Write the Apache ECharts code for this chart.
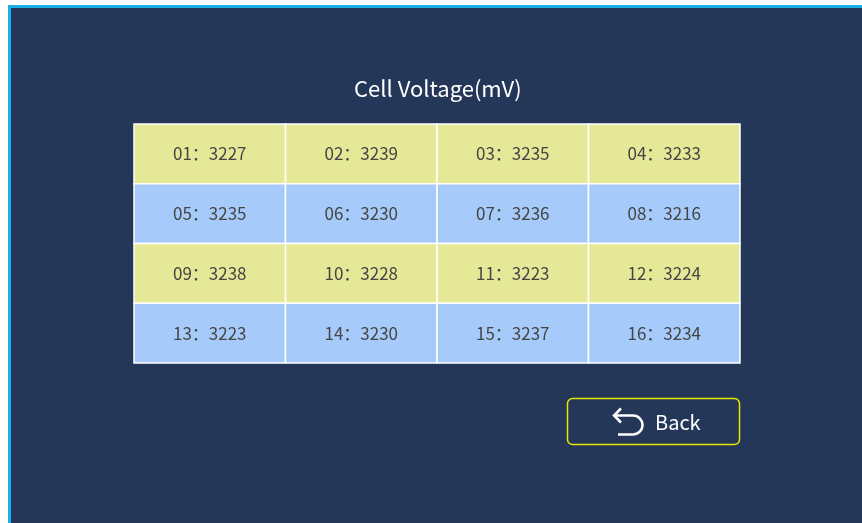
<!DOCTYPE html>
<html>
<head>
<meta charset="utf-8">
<script src="https://cdn.jsdelivr.net/npm/echarts@6/dist/echarts.min.js"></script>
<style>
html,body{margin:0;padding:0;background:#ffffff;}
#main{width:862px;height:523px;}
</style>
</head>
<body>
<div id="main"></div>
<script>
var columns = ['c1', 'c2', 'c3', 'c4'];
var rows = ['r1', 'r2', 'r3', 'r4'];
var cellNames = ['01','02','03','04','05','06','07','08','09','10','11','12','13','14','15','16'];
var voltages = [3227,3239,3235,3233,3235,3230,3236,3216,3238,3228,3223,3224,3223,3230,3237,3234];
var titleText = 'Cell Voltage(mV)';
var buttonText = 'Back';

var rowColors = ['#e4e897', '#a6cbfa'];
var fontFam = '"Noto Sans CJK SC", sans-serif';
var data = cellNames.map(function (n, i) {
  return [i % 4, Math.floor(i / 4), voltages[i], n];
});

var chart = echarts.init(document.getElementById('main'), null, {renderer: 'canvas'});
chart.setOption({
  backgroundColor: '#ffffff',
  animation: false,
  title: {
    text: titleText,
    left: 349,
    top: 73,
    textStyle: {color: '#ffffff', fontSize: 22, fontWeight: 'normal', fontFamily: fontFam}
  },
  grid: {left: 134, top: 124, width: 606, height: 239},
  xAxis: {type: 'category', data: columns, show: false},
  yAxis: {type: 'category', data: rows, inverse: true, show: false},
  graphic: [
    {type: 'rect', z: -10, shape: {x: 8, y: 5, width: 854, height: 518}, style: {fill: '#1aafe6'}},
    {type: 'rect', z: -9, shape: {x: 11, y: 8, width: 851, height: 515}, style: {fill: '#253759'}},
    {type: 'rect', z: 5, shape: {x: 567.5, y: 398.5, width: 172, height: 46, r: 5}, style: {fill: 'none', stroke: '#e6e600', lineWidth: 1.5}},
    {type: 'polyline', z: 6, shape: {points: [[621, 408.5], [614, 415.5], [621, 422.5]]}, style: {fill: 'none', stroke: '#ffffff', lineWidth: 2.5}},
    {type: 'line', z: 6, shape: {x1: 614, y1: 415.5, x2: 633, y2: 415.5}, style: {stroke: '#ffffff', lineWidth: 2.5}},
    {type: 'arc', z: 6, shape: {cx: 633, cy: 425, r: 9.5, startAngle: -Math.PI / 2, endAngle: Math.PI / 2, clockwise: true}, style: {fill: 'none', stroke: '#ffffff', lineWidth: 2.5}},
    {type: 'line', z: 6, shape: {x1: 633, y1: 434.5, x2: 618, y2: 434.5}, style: {stroke: '#ffffff', lineWidth: 2.5}},
    {type: 'text', z: 6, style: {x: 655, y: 422, text: buttonText, fill: '#ffffff', fontSize: 20, fontFamily: fontFam, verticalAlign: 'middle', textAlign: 'left'}}
  ],
  series: [{
    type: 'custom',
    data: data,
    renderItem: function (params, api) {
      var c = api.coord([api.value(0), api.value(1)]);
      var s = api.size([1, 1]);
      var row = api.value(1);
      return {
        type: 'group',
        children: [
          {type: 'rect', shape: {x: c[0] - s[0] / 2, y: c[1] - s[1] / 2, width: s[0], height: s[1]},
           style: {fill: rowColors[row % 2], stroke: '#ffffff', lineWidth: 1.5}},
          {type: 'text', style: {x: c[0], y: c[1], text: data[params.dataIndex][3] + '：' + api.value(2),
            fill: '#454545', fontSize: 17, fontFamily: fontFam, textAlign: 'center', verticalAlign: 'middle'}}
        ]
      };
    }
  }]
});
</script>
</body>
</html>
